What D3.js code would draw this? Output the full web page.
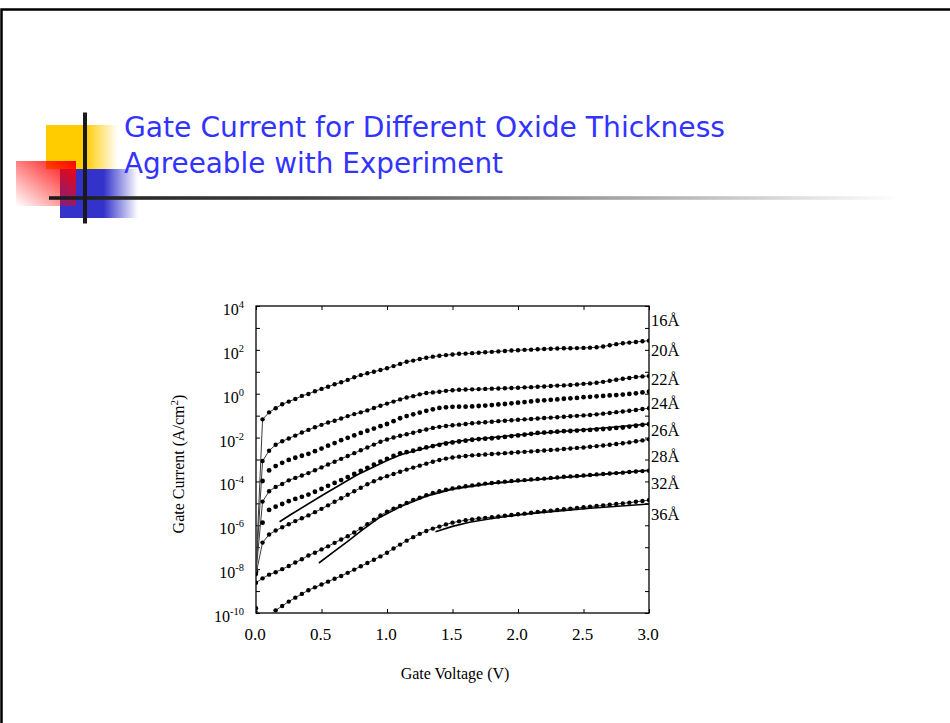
<!DOCTYPE html>
<html>
<head>
<meta charset="utf-8">
<script src="https://cdnjs.cloudflare.com/ajax/libs/d3/7.8.5/d3.min.js"></script>
<style>
	body { margin: 0; background: #fff; }
	svg { display: block; }
</style>
</head>
<body>
<div id="slide"></div>
<script>
const width = 950;
const height = 723;

// DATA ================================================================
// gate voltage (V) of every simulated point
const voltage = [0, 0.05, 0.1, 0.15, 0.2, 0.25, 0.3, 0.35, 0.4, 0.45, 0.5, 0.55, 0.6, 0.65, 0.7, 0.75, 0.8, 0.85, 0.9, 0.95,
	1.0, 1.05, 1.1, 1.15, 1.2, 1.25, 1.3, 1.35, 1.4, 1.45, 1.5, 1.55, 1.6, 1.65, 1.7, 1.75, 1.8, 1.85, 1.9, 1.95,
	2.0, 2.05, 2.1, 2.15, 2.2, 2.25, 2.3, 2.35, 2.4, 2.45, 2.5, 2.55, 2.6, 2.65, 2.7, 2.75, 2.8, 2.85, 2.9, 2.95, 3.0];

// simulated gate current, log10(A/cm^2), one value per voltage (null = no point)
const sim16 = [-8.04, -1.17, -0.85, -0.66, -0.48, -0.36, -0.24, -0.10, -0.01, 0.11, 0.22, 0.32, 0.43, 0.52, 0.63, 0.75, 0.85, 0.93, 1.00, 1.08,
	1.16, 1.26, 1.36, 1.46, 1.51, 1.58, 1.64, 1.69, 1.73, 1.76, 1.79, 1.82, 1.83, 1.85, 1.87, 1.89, 1.91, 1.93, 1.95, 1.97,
	1.98, 2.00, 2.01, 2.03, 2.04, 2.05, 2.06, 2.07, 2.07, 2.08, 2.09, 2.10, 2.12, 2.15, 2.21, 2.26, 2.30, 2.33, 2.36, 2.39, 2.42];
const sim20 = [-8.10, -3.07, -2.60, -2.33, -2.17, -2.04, -1.91, -1.77, -1.65, -1.53, -1.42, -1.31, -1.23, -1.13, -1.02, -0.93, -0.85, -0.76, -0.65, -0.55,
	-0.45, -0.36, -0.26, -0.17, -0.11, -0.03, 0.03, 0.06, 0.09, 0.13, 0.16, 0.18, 0.19, 0.20, 0.21, 0.22, 0.23, 0.24, 0.25, 0.26,
	0.27, 0.29, 0.30, 0.32, 0.33, 0.35, 0.37, 0.38, 0.40, 0.42, 0.45, 0.47, 0.50, 0.54, 0.59, 0.64, 0.68, 0.72, 0.76, 0.79, 0.81];
const sim22 = [null, -3.98, -3.50, -3.30, -3.15, -3.02, -2.92, -2.83, -2.74, -2.62, -2.50, -2.37, -2.25, -2.12, -2.01, -1.90, -1.79, -1.69, -1.59, -1.48,
	-1.38, -1.25, -1.12, -1.02, -0.94, -0.86, -0.78, -0.71, -0.65, -0.62, -0.60, -0.59, -0.59, -0.58, -0.56, -0.54, -0.52, -0.49, -0.47, -0.44,
	-0.41, -0.38, -0.35, -0.32, -0.30, -0.28, -0.26, -0.23, -0.21, -0.19, -0.16, -0.14, -0.12, -0.10, -0.08, -0.06, -0.04, -0.01, 0.02, 0.06, 0.09];
const sim24 = [-8.16, -4.92, -4.45, -4.25, -4.12, -3.95, -3.84, -3.73, -3.62, -3.49, -3.36, -3.23, -3.10, -2.97, -2.84, -2.71, -2.58, -2.45, -2.32, -2.19,
	-2.09, -2.00, -1.92, -1.85, -1.78, -1.70, -1.63, -1.56, -1.51, -1.47, -1.44, -1.41, -1.38, -1.35, -1.32, -1.30, -1.28, -1.25, -1.23, -1.21,
	-1.19, -1.17, -1.15, -1.13, -1.11, -1.09, -1.07, -1.05, -1.03, -1.01, -0.99, -0.97, -0.94, -0.91, -0.88, -0.84, -0.81, -0.78, -0.74, -0.70, -0.66];
const sim26 = [null, -5.88, -5.30, -5.15, -5.03, -4.90, -4.80, -4.70, -4.60, -4.47, -4.34, -4.20, -4.07, -3.94, -3.80, -3.66, -3.52, -3.38, -3.24, -3.10,
	-2.97, -2.84, -2.72, -2.66, -2.60, -2.52, -2.45, -2.39, -2.33, -2.27, -2.22, -2.18, -2.14, -2.10, -2.07, -2.05, -2.03, -2.00, -1.97, -1.93,
	-1.90, -1.87, -1.83, -1.79, -1.77, -1.75, -1.73, -1.71, -1.70, -1.68, -1.66, -1.65, -1.63, -1.61, -1.59, -1.56, -1.54, -1.50, -1.46, -1.42, -1.39];
const sim28 = [-8.22, -6.79, -6.42, -6.24, -6.09, -5.95, -5.81, -5.68, -5.55, -5.40, -5.25, -5.09, -4.93, -4.77, -4.61, -4.45, -4.29, -4.13, -3.99, -3.86,
	-3.76, -3.66, -3.56, -3.46, -3.37, -3.28, -3.19, -3.10, -3.02, -2.96, -2.91, -2.87, -2.84, -2.81, -2.79, -2.77, -2.75, -2.73, -2.71, -2.69,
	-2.67, -2.65, -2.63, -2.61, -2.59, -2.57, -2.55, -2.52, -2.50, -2.47, -2.45, -2.42, -2.39, -2.36, -2.33, -2.29, -2.26, -2.22, -2.17, -2.13, -2.08];
const sim32 = [-8.62, -8.42, -8.25, -8.14, -8.00, -7.86, -7.70, -7.55, -7.38, -7.25, -7.10, -6.96, -6.80, -6.65, -6.50, -6.33, -6.15, -5.95, -5.75, -5.55,
	-5.38, -5.24, -5.12, -4.98, -4.85, -4.74, -4.63, -4.53, -4.45, -4.38, -4.32, -4.27, -4.22, -4.18, -4.14, -4.10, -4.07, -4.04, -4.01, -3.98,
	-3.96, -3.94, -3.91, -3.89, -3.87, -3.84, -3.82, -3.79, -3.77, -3.75, -3.73, -3.71, -3.68, -3.66, -3.64, -3.62, -3.60, -3.57, -3.55, -3.53, -3.51];
const sim36 = [-9.78, -10.50, -10.15, -9.88, -9.68, -9.48, -9.30, -9.13, -8.96, -8.83, -8.70, -8.57, -8.44, -8.31, -8.17, -8.02, -7.87, -7.72, -7.57, -7.42,
	-7.25, -7.06, -6.88, -6.70, -6.54, -6.39, -6.26, -6.15, -6.06, -5.96, -5.88, -5.82, -5.77, -5.73, -5.69, -5.66, -5.63, -5.60, -5.56, -5.53,
	-5.50, -5.47, -5.43, -5.39, -5.36, -5.33, -5.30, -5.27, -5.24, -5.21, -5.18, -5.15, -5.12, -5.09, -5.06, -5.03, -5.00, -4.97, -4.93, -4.89, -4.85];

// experimental curves (solid lines), voltage and log10(A/cm^2)
const exp26V = [0.18, 0.26, 0.51, 0.77, 1.0, 1.1, 1.2, 1.33, 1.41, 1.6, 2.0, 2.5, 3.0];
const exp26 = [-5.84, -5.53, -4.62, -3.71, -3.05, -2.79, -2.62, -2.42, -2.28, -2.12, -1.88, -1.64, -1.38];
const exp32V = [0.48, 0.6, 0.7, 0.8, 0.88, 0.95, 1.1, 1.3, 1.5, 1.8, 2.2, 2.6, 3.0];
const exp32 = [-7.72, -7.18, -6.73, -6.27, -5.91, -5.62, -5.16, -4.68, -4.35, -4.09, -3.89, -3.70, -3.49];
const exp36V = [1.37, 1.5, 1.63, 1.79, 2.0, 2.17, 2.55, 3.0];
const exp36 = [-6.29, -6.05, -5.86, -5.70, -5.53, -5.43, -5.22, -5.03];

// oxide thickness labels and the log10 level their baseline sits at
const thicknessLabels = ['16Å', '20Å', '22Å', '24Å', '26Å', '28Å', '32Å', '36Å'];
const thicknessLabelAt = [3.09, 1.73, 0.40, -0.71, -1.93, -3.10, -4.34, -5.76];

const xTicks = [0, 0.5, 1.0, 1.5, 2.0, 2.5, 3.0];
const yLabelExps = [4, 2, 0, -2, -4, -6, -8, -10];
const yTickExps = [4, 3, 2, 1, 0, -1, -2, -3, -4, -5, -6, -7, -8, -9, -10];

const titleLines = ['Gate Current for Different Oxide Thickness', 'Agreeable with Experiment'];
// =====================================================================

const svg = d3.select('#slide').append('svg').attr('width', width).attr('height', height);
const defs = svg.append('defs');

// slide frame
svg.append('rect')
	.attr('x', 1.5).attr('y', 9.5).attr('width', 1000).attr('height', 800)
	.attr('fill', 'none').attr('stroke', '#000').attr('stroke-width', 2.5);

// Decoration ==========================================================
function fadeRight(id, color, solidTo) {
	const g = defs.append('linearGradient').attr('id', id).attr('x1', 0).attr('y1', 0).attr('x2', 1).attr('y2', 0);
	g.append('stop').attr('offset', 0).attr('stop-color', color);
	g.append('stop').attr('offset', solidTo).attr('stop-color', color);
	g.append('stop').attr('offset', 1).attr('stop-color', color).attr('stop-opacity', 0);
}
fadeRight('gYellow', '#ffcc00', 0.55);
fadeRight('gBlue', '#3333cc', 0.56);

const gRed = defs.append('linearGradient').attr('id', 'gRed').attr('x1', 1).attr('y1', 0).attr('x2', 0).attr('y2', 1);
gRed.append('stop').attr('offset', 0).attr('stop-color', '#ff0000');
gRed.append('stop').attr('offset', 1).attr('stop-color', '#ff0000').attr('stop-opacity', 0);

const gBar = defs.append('linearGradient').attr('id', 'gBar').attr('x1', 0).attr('y1', 0).attr('x2', 1).attr('y2', 0);
gBar.append('stop').attr('offset', 0).attr('stop-color', '#1a1a1a');
gBar.append('stop').attr('offset', 0.3).attr('stop-color', '#444');
gBar.append('stop').attr('offset', 0.75).attr('stop-color', '#bbb');
gBar.append('stop').attr('offset', 1).attr('stop-color', '#fff');

const deco = svg.append('g');
deco.append('rect').attr('x', 46).attr('y', 125).attr('width', 72).attr('height', 44).attr('fill', 'url(#gYellow)');
deco.append('rect').attr('x', 60).attr('y', 169).attr('width', 78).attr('height', 49).attr('fill', 'url(#gBlue)');
deco.append('rect').attr('x', 16).attr('y', 161).attr('width', 60).attr('height', 45).attr('fill', 'url(#gRed)');
deco.append('rect').attr('x', 49).attr('y', 196.2).attr('width', 850).attr('height', 3.6).attr('fill', 'url(#gBar)');
deco.append('rect').attr('x', 83).attr('y', 112.5).attr('width', 4).attr('height', 111).attr('fill', '#1a1a1a');

// Title
svg.append('g')
	.selectAll('text')
	.data(titleLines)
	.join('text')
	.attr('x', 124)
	.attr('y', (d, i) => 137 + i * 36)
	.attr('textLength', (d, i) => (i === 0 ? 601 : 379))
	.attr('lengthAdjust', 'spacingAndGlyphs')
	.attr('font-family', '"DejaVu Sans", Verdana, sans-serif')
	.attr('font-size', 29)
	.attr('fill', '#3333ff')
	.text((d) => d);

// Chart ===============================================================
const plot = { left: 256, right: 649, top: 306, bottom: 613 };
const serif = '"Liberation Serif", "Times New Roman", serif';

const x = d3.scaleLinear().domain([0, 3]).range([plot.left, plot.right]);
const y = d3.scaleLog().domain([1e-10, 1e4]).range([plot.bottom, plot.top]);

defs.append('clipPath').attr('id', 'plotClip')
	.append('rect')
	.attr('x', plot.left).attr('y', plot.top)
	.attr('width', plot.right - plot.left).attr('height', plot.bottom - plot.top);

const chart = svg.append('g');

// ticks, all pointing inward
const yTickVals = yTickExps.map((e) => Math.pow(10, e));
chart.append('g').attr('transform', `translate(${plot.left},0)`)
	.call(d3.axisLeft(y).tickValues(yTickVals).tickSize(-4).tickFormat(''));
chart.append('g').attr('transform', `translate(${plot.right},0)`)
	.call(d3.axisRight(y).tickValues(yTickVals).tickSize(-4).tickFormat(''));
chart.append('g').attr('transform', `translate(0,${plot.bottom})`)
	.call(d3.axisBottom(x).tickValues(xTicks).tickSize(-4).tickFormat(''));
chart.append('g').attr('transform', `translate(0,${plot.top})`)
	.call(d3.axisTop(x).tickValues(xTicks).tickSize(-4).tickFormat(''));
chart.selectAll('.domain').remove();
chart.selectAll('.tick line').attr('stroke', '#000').attr('stroke-width', 1);

chart.append('rect')
	.attr('x', plot.left).attr('y', plot.top)
	.attr('width', plot.right - plot.left).attr('height', plot.bottom - plot.top)
	.attr('fill', 'none').attr('stroke', '#000').attr('stroke-width', 1.3);

// y tick labels 10^n
const yLabels = chart.append('g')
	.selectAll('text')
	.data(yLabelExps)
	.join('text')
	.attr('x', 244)
	.attr('y', (d) => y(Math.pow(10, d)) + 9)
	.attr('text-anchor', 'end')
	.attr('font-family', serif)
	.attr('font-size', 16)
	.attr('fill', '#000');
yLabels.append('tspan').text('10');
yLabels.append('tspan').attr('dy', -7).attr('font-size', 10.5).text((d) => d);

// x tick labels
chart.append('g')
	.selectAll('text')
	.data(xTicks)
	.join('text')
	.attr('x', (d) => x(d) - 1)
	.attr('y', 640)
	.attr('text-anchor', 'middle')
	.attr('font-family', serif)
	.attr('font-size', 17)
	.attr('fill', '#000')
	.text((d) => d3.format('.1f')(d));

// axis titles
chart.append('text')
	.attr('x', 455).attr('y', 679)
	.attr('text-anchor', 'middle')
	.attr('font-family', serif).attr('font-size', 16)
	.text('Gate Voltage (V)');

const yTitle = chart.append('text')
	.attr('transform', 'translate(184,464) rotate(-90)')
	.attr('text-anchor', 'middle')
	.attr('font-family', serif).attr('font-size', 16);
yTitle.append('tspan').text('Gate Current (A/cm');
yTitle.append('tspan').attr('dy', -6).attr('font-size', 11).text('2');
yTitle.append('tspan').attr('dy', 6).text(')');

// thickness labels on the right
chart.append('g')
	.selectAll('text')
	.data(thicknessLabels)
	.join('text')
	.attr('x', 651)
	.attr('y', (d, i) => y(Math.pow(10, thicknessLabelAt[i])))
	.attr('font-family', serif)
	.attr('font-size', 16.5)
	.attr('fill', '#000')
	.text((d) => d);

// Curves ==============================================================
const curves = [
	{ values: sim16, linked: true },
	{ values: sim20, linked: true },
	{ values: sim22, linked: false },
	{ values: sim24, linked: true },
	{ values: sim26, linked: false },
	{ values: sim28, linked: true },
	{ values: sim32, linked: true },
	{ values: sim36, linked: true },
];

const toPoints = (vs, ls) => vs.map((v, i) => ({ v: v, j: ls[i] == null ? null : Math.pow(10, ls[i]) }));

const line = d3.line()
	.defined((d) => d.j != null)
	.x((d) => x(d.v))
	.y((d) => y(d.j));

const marks = chart.append('g').attr('clip-path', 'url(#plotClip)');

curves.forEach((c) => {
	const pts = toPoints(voltage, c.values);
	if (c.linked) {
		marks.append('path')
			.datum(pts)
			.attr('d', line)
			.attr('fill', 'none')
			.attr('stroke', '#3a3a3a')
			.attr('stroke-width', 1);
	}
	marks.append('g')
		.selectAll('circle')
		.data(pts.filter((d) => d.j != null))
		.join('circle')
		.attr('cx', (d) => x(d.v))
		.attr('cy', (d) => y(d.j))
		.attr('r', c.linked ? 2.2 : 2.4)
		.attr('fill', '#000');
});

// experiment
[[exp26V, exp26], [exp32V, exp32], [exp36V, exp36]].forEach(([vs, ls]) => {
	marks.append('path')
		.datum(toPoints(vs, ls))
		.attr('d', line)
		.attr('fill', 'none')
		.attr('stroke', '#000')
		.attr('stroke-width', 1.6);
});
</script>
</body>
</html>
